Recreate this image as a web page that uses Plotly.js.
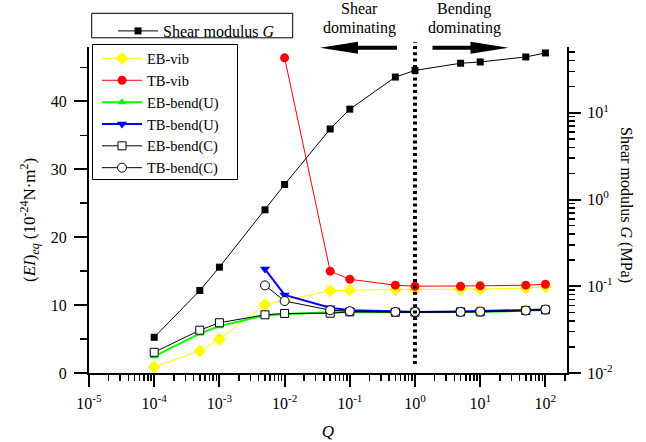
<!DOCTYPE html>
<html>
<head>
<meta charset="utf-8">
<script src="https://cdn.plot.ly/plotly-3.0.1.min.js"></script>
<style>html,body{margin:0;padding:0;background:#fff;}#chart{width:646px;height:442px;}</style>
</head>
<body>
<div id="chart"></div>
<script>
// ---------------- data ----------------
const Q_ALL   = [1e-4, 5e-4, 1e-3, 5e-3, 1e-2, 5e-2, 0.1, 0.5, 1, 5, 10, 50, 100];
const G_MPa   = [0.0258, 0.0893, 0.166, 0.76, 1.49, 6.5, 11.0, 25.8, 30.8, 37.2, 38.5, 44.0, 48.9];

const Q_EBvib = [1e-4, 5e-4, 1e-3, 5e-3, 5e-2, 0.1, 0.5, 1, 5, 10, 50, 100];
const EB_vib  = [0.89, 3.25, 4.97, 10.1, 12.1, 12.2, 12.3, 12.3, 12.35, 12.35, 12.5, 12.7];

const Q_TBvib = [1e-2, 5e-2, 0.1, 0.5, 1, 5, 10, 50, 100];
const TB_vib  = [46.4, 15.0, 13.8, 12.93, 12.78, 12.78, 12.83, 12.93, 13.07];

const EB_bendU = [2.46, 5.8, 6.9, 8.5, 8.66, 8.95, 8.95, 8.95, 8.95, 9.0, 9.0, 9.15, 9.3];

const Q_TB     = [5e-3, 1e-2, 5e-2, 0.1, 0.5, 1, 5, 10, 50, 100];
const TB_bendU = [15.3, 11.5, 9.6, 9.25, 9.1, 9.0, 9.05, 9.1, 9.2, 9.35];

const EB_bendC = [3.05, 6.3, 7.4, 8.57, 8.77, 8.8, 9.0, 8.95, 8.95, 9.0, 9.0, 9.2, 9.3];
const TB_bendC = [12.9, 10.6, 9.25, 9.1, 9.0, 9.0, 9.0, 9.05, 9.2, 9.35];

const X_TICKVALS = [1e-5, 1e-4, 1e-3, 1e-2, 1e-1, 1, 10, 100];
const X_TICKTEXT = ['10<sup>-5</sup>','10<sup>-4</sup>','10<sup>-3</sup>','10<sup>-2</sup>','10<sup>-1</sup>','10<sup>0</sup>','10<sup>1</sup>','10<sup>2</sup>'];
const G_TICKVALS = [0.01, 0.1, 1, 10];
const G_TICKTEXT = ['10<sup>-2</sup>','10<sup>-1</sup>','10<sup>0</sup>','10<sup>1</sup>'];

// ---------------- layout geometry ----------------
const W = 646, H = 442;
const L = 89, R = 567, T = 47, B = 373;
const XR = [-5, 2.331];
const YR = [0, 48];
const GR = [-2, 1.758];
const px = x => (x - L) / (R - L);
const py = y => (B - y) / (B - T);

function minorLog(lo, hi) {
  const v = [];
  for (let e = Math.floor(lo); e <= Math.ceil(hi); e++) {
    for (let d = 2; d <= 9; d++) {
      const val = d * Math.pow(10, e);
      const lv = Math.log10(val);
      if (lv > lo && lv < hi) v.push(val);
    }
  }
  return v;
}

const FONT = 'Liberation Serif, Times New Roman, serif';
const tickFont = {family: FONT, size: 16, color: '#000'};

const traces = [
  {x: Q_EBvib, y: EB_vib, name: 'EB-vib', mode: 'lines+markers', legend: 'legend2',
   line: {color: '#FFFF00', width: 1}, marker: {symbol: 'diamond', size: 10, color: '#FFFF00'}},
  {x: Q_TBvib, y: TB_vib, name: 'TB-vib', mode: 'lines+markers', legend: 'legend2',
   line: {color: '#FF0000', width: 1}, marker: {symbol: 'circle', size: 9, color: '#FF0000'}},
  {x: Q_ALL, y: EB_bendU, name: 'EB-bend(U)', mode: 'lines+markers', legend: 'legend2',
   line: {color: '#00FF00', width: 2}, marker: {symbol: 'triangle-up', size: 8, color: '#00FF00'}},
  {x: Q_TB, y: TB_bendU, name: 'TB-bend(U)', mode: 'lines+markers', legend: 'legend2',
   line: {color: '#0000FF', width: 2}, marker: {symbol: 'triangle-down', size: 9, color: '#0000FF'}},
  {x: Q_ALL, y: EB_bendC, name: 'EB-bend(C)', mode: 'lines+markers', legend: 'legend2',
   line: {color: '#000000', width: 1}, marker: {symbol: 'square', size: 8, color: '#FFFFFF', line: {color: '#000', width: 1}}},
  {x: Q_TB, y: TB_bendC, name: 'TB-bend(C)', mode: 'lines+markers', legend: 'legend2',
   line: {color: '#000000', width: 1}, marker: {symbol: 'circle', size: 9, color: '#FFFFFF', line: {color: '#000', width: 1}}},
  {x: Q_ALL, y: G_MPa, name: 'Shear modulus <i>G</i>', mode: 'lines+markers', yaxis: 'y2', legend: 'legend',
   line: {color: '#000000', width: 1}, marker: {symbol: 'square', size: 7, color: '#000000'}}
];

const xOne = (0 - XR[0]) / (XR[1] - XR[0]); // paper position of Q = 1

function arrowPath(tipX, baseX, cy, dir) {
  const headLen = 38, headH = 6, shaftH = 2;
  const hb = tipX - dir * headLen;
  const pts = [[tipX, cy], [hb, cy - headH], [hb, cy - shaftH], [baseX, cy - shaftH],
               [baseX, cy + shaftH], [hb, cy + shaftH], [hb, cy + headH]];
  return 'M' + pts.map(p => px(p[0]).toFixed(5) + ',' + py(p[1]).toFixed(5)).join('L') + 'Z';
}

const annFont = {family: FONT, size: 16, color: '#000'};

const layout = {
  width: W, height: H,
  margin: {l: L, r: W - R, t: T, b: H - B, pad: 0},
  paper_bgcolor: '#fff', plot_bgcolor: 'rgba(0,0,0,0)',
  font: {family: FONT, color: '#000'},
  showlegend: true,
  xaxis: {
    type: 'log', range: XR, showgrid: false, zeroline: false,
    showline: true, linecolor: '#000', linewidth: 2,
    ticks: 'outside', ticklen: 12, tickwidth: 2, tickcolor: '#000', ticklabelstandoff: 3,
    tickmode: 'array', tickvals: X_TICKVALS, ticktext: X_TICKTEXT, tickfont: tickFont,
    minor: {tickmode: 'array', tickvals: minorLog(XR[0], XR[1]), ticks: 'outside', ticklen: 6, tickwidth: 1.5, tickcolor: '#000', showgrid: false},
    title: {text: '<i>Q</i>', font: {family: FONT, size: 17}, standoff: 14}
  },
  yaxis: {
    range: YR, showgrid: false, zeroline: false,
    showline: true, linecolor: '#000', linewidth: 2,
    ticks: 'outside', ticklen: 13, tickwidth: 2, tickcolor: '#000', ticklabelstandoff: 4,
    dtick: 10, tick0: 0, tickfont: tickFont,
    minor: {dtick: 5, tick0: 0, ticks: 'outside', ticklen: 7, tickwidth: 1.5, tickcolor: '#000', showgrid: false}
  },
  yaxis2: {
    type: 'log', range: GR, overlaying: 'y', side: 'right', showgrid: false, zeroline: false,
    showline: true, linecolor: '#000', linewidth: 2,
    ticks: 'outside', ticklen: 12, tickwidth: 2, tickcolor: '#000', ticklabelstandoff: 3,
    tickmode: 'array', tickvals: G_TICKVALS, ticktext: G_TICKTEXT, tickfont: tickFont,
    minor: {tickmode: 'array', tickvals: minorLog(GR[0], GR[1]), ticks: 'outside', ticklen: 6, tickwidth: 1.5, tickcolor: '#000', showgrid: false}
  },
  legend: {
    x: px(113), y: py(14), xanchor: 'left', yanchor: 'top',
    bgcolor: 'rgba(0,0,0,0)', borderwidth: 0, itemwidth: 40,
    font: {family: FONT, size: 16, color: '#000'}
  },
  legend2: {
    x: px(97), y: py(42.5), xanchor: 'left', yanchor: 'top',
    bgcolor: 'rgba(0,0,0,0)', borderwidth: 0, itemwidth: 40,
    font: {family: FONT, size: 14.5, color: '#000'}
  },
  shapes: [
    {type: 'rect', xref: 'paper', yref: 'paper', x0: px(91.7), x1: px(292.7), y0: py(13.3), y1: py(37.8),
     line: {color: '#000', width: 1}, fillcolor: 'rgba(0,0,0,0)', layer: 'below'},
    {type: 'rect', xref: 'paper', yref: 'paper', x0: px(92.5), x1: px(237.5), y0: py(44.5), y1: py(179.5),
     line: {color: '#000', width: 1}, fillcolor: 'rgba(0,0,0,0)', layer: 'below'},
    {type: 'line', xref: 'paper', yref: 'paper', x0: xOne, x1: xOne, y0: py(364), y1: py(42),
     line: {color: '#000', width: 4, dash: '3px,3.3px'}, layer: 'above'},
    {type: 'path', xref: 'paper', yref: 'paper', path: arrowPath(320, 397, 47.8, -1),
     fillcolor: '#000', line: {color: '#000', width: 0}},
    {type: 'path', xref: 'paper', yref: 'paper', path: arrowPath(508.5, 432.5, 47.8, 1),
     fillcolor: '#000', line: {color: '#000', width: 0}}
  ],
  annotations: [
    {text: 'Shear', xref: 'paper', yref: 'paper', x: px(359.3), y: py(8.8), showarrow: false,
     xanchor: 'center', yanchor: 'middle', font: annFont},
    {text: 'dominating', xref: 'paper', yref: 'paper', x: px(359), y: py(27.8), showarrow: false,
     xanchor: 'center', yanchor: 'middle', font: annFont},
    {text: 'Bending', xref: 'paper', yref: 'paper', x: px(463.5), y: py(8.8), showarrow: false,
     xanchor: 'center', yanchor: 'middle', font: annFont},
    {text: 'dominating', xref: 'paper', yref: 'paper', x: px(464.5), y: py(27.8), showarrow: false,
     xanchor: 'center', yanchor: 'middle', font: annFont},
    {text: '(<i>EI</i>)<sub><i>eq</i></sub> (10<sup>-24</sup>N·m<sup>2</sup>)', xref: 'paper', yref: 'paper',
     x: px(29), y: py(220), textangle: -90, showarrow: false, xanchor: 'center', yanchor: 'middle',
     font: {family: FONT, size: 17}},
    {text: 'Shear modulus <i>G</i> (MPa)', xref: 'paper', yref: 'paper',
     x: px(626), y: py(205), textangle: 90, showarrow: false, xanchor: 'center', yanchor: 'middle',
     font: {family: FONT, size: 16}}
  ]
};

Plotly.newPlot('chart', traces, layout, {displayModeBar: false, staticPlot: true});
</script>
</body>
</html>
